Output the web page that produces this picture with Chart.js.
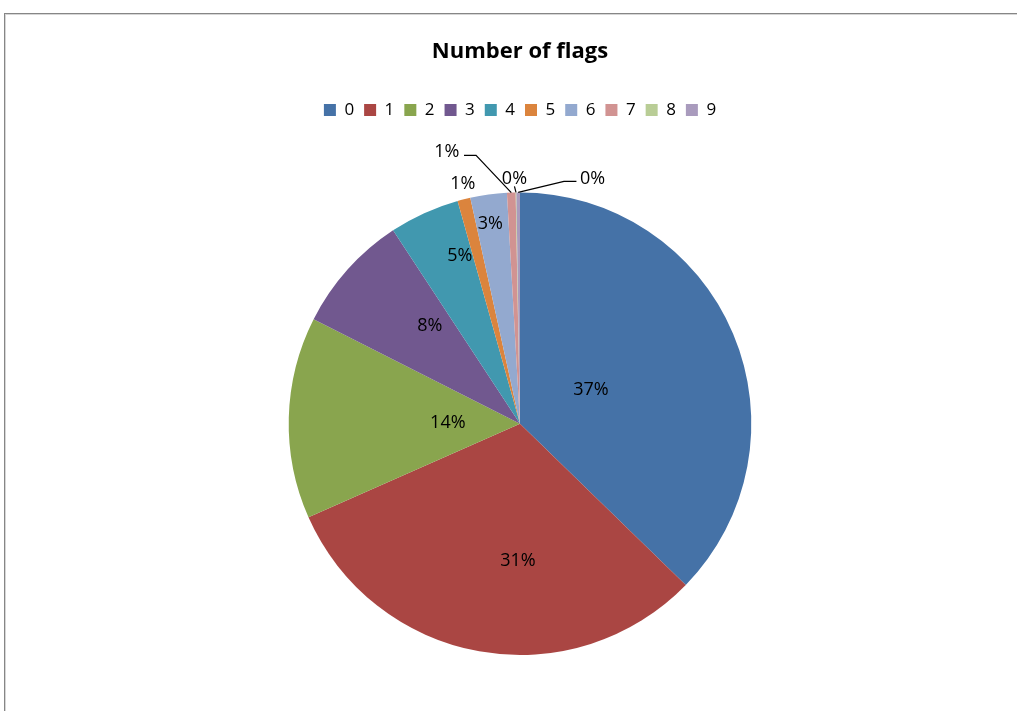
<!DOCTYPE html>
<html lang="en">
<head>
    <meta charset="UTF-8">
    <title>Number of flags</title>
    <script src="https://cdn.jsdelivr.net/npm/chart.js"></script>
    <style>
        body {
            margin: 0;
            background: #ffffff;
            overflow: hidden;
        }
        .frame {
            position: absolute;
            left: 4px;
            top: 13px;
            width: 1100px;
            height: 800px;
            border-left: 1px solid #868686;
            border-top: 1px solid #868686;
            box-shadow: inset 1px 1px 0 #d6d6d6;
        }
        #flagChart {
            position: absolute;
            left: 0;
            top: 0;
        }
    </style>
</head>
<body>
    <div class="frame"></div>
    <canvas id="flagChart" width="1017" height="711"></canvas>

    <script>
        const categories = ["0", "1", "2", "3", "4", "5", "6", "7", "8", "9"];
        const shares = [37.3, 31.1, 14.1, 8.3, 4.9, 0.9, 2.55, 0.6, 0.05, 0.25];
        const sliceColors = ["#4572A7", "#AA4643", "#89A54E", "#71588F", "#4198AF",
                             "#DB843D", "#93A9CF", "#D19392", "#B9CD96", "#A99BBD"];

        // where each percentage sits, in units of the pie radius from its centre;
        // "leader" lists the bend and end points of the line back to the slice
        const labelSpots = [
            { x: 0.307, y: -0.156 },
            { x: -0.009, y: 0.584 },
            { x: -0.312, y: -0.013 },
            { x: -0.390, y: -0.433 },
            { x: -0.260, y: -0.736 },
            { x: -0.247, y: -1.045 },
            { x: -0.128, y: -0.874 },
            { x: -0.316, y: -1.182, leader: [[-0.190, -1.160], [-0.242, -1.160]] },
            { x: -0.024, y: -1.069, leader: [[-0.024, -1.026]] },
            { x: 0.314, y: -1.069, leader: [[0.190, -1.048], [0.244, -1.048]] }
        ];

        const total = shares.reduce((a, b) => a + b, 0);

        const sliceLabels = {
            id: "sliceLabels",
            afterDatasetsDraw(chart) {
                const ctx = chart.ctx;
                const meta = chart.getDatasetMeta(0);
                ctx.save();
                ctx.font = "18px 'Open Sans'";
                ctx.fillStyle = "#000000";
                ctx.strokeStyle = "#000000";
                ctx.lineWidth = 1.2;
                ctx.textAlign = "center";
                ctx.textBaseline = "middle";
                meta.data.forEach((arc, i) => {
                    const p = arc.getProps(["x", "y", "startAngle", "endAngle", "outerRadius"], true);
                    const spot = labelSpots[i];
                    const r = p.outerRadius;
                    if (spot.leader) {
                        const mid = (p.startAngle + p.endAngle) / 2;
                        ctx.beginPath();
                        ctx.moveTo(p.x + Math.cos(mid) * r, p.y + Math.sin(mid) * r);
                        spot.leader.forEach(pt => ctx.lineTo(p.x + pt[0] * r, p.y + pt[1] * r));
                        ctx.stroke();
                    }
                    const pct = Math.round(shares[i] / total * 100) + "%";
                    // Open Sans sits a little high on a middle baseline
                    ctx.fillText(pct, p.x + spot.x * r, p.y + spot.y * r + 2);
                });
                ctx.restore();
            }
        };

        // leaves room between the legend row and the top of the pie
        const legendGap = {
            id: "legendGap",
            beforeInit(chart) {
                const fit = chart.legend.fit;
                chart.legend.fit = function () {
                    fit.call(this);
                    this.height += 64;
                };
            }
        };

        const ctx = document.getElementById("flagChart").getContext("2d");
        new Chart(ctx, {
            type: "pie",
            data: {
                labels: categories,
                datasets: [{
                    data: shares,
                    backgroundColor: sliceColors,
                    borderWidth: 0
                }]
            },
            options: {
                responsive: false,
                animation: false,
                layout: {
                    padding: { top: 0, left: 23, right: 0, bottom: 56 }
                },
                plugins: {
                    title: {
                        display: true,
                        text: "Number of flags",
                        color: "#000000",
                        font: { family: "'Open Sans'", size: 22, weight: "bold" },
                        padding: { top: 39, bottom: 26 }
                    },
                    legend: {
                        position: "top",
                        labels: {
                            color: "#000000",
                            font: { family: "'Open Sans'", size: 17 },
                            boxWidth: 12,
                            boxHeight: 12,
                            padding: 10
                        }
                    },
                    tooltip: { enabled: false }
                }
            },
            plugins: [sliceLabels, legendGap]
        });
    </script>
</body>
</html>
